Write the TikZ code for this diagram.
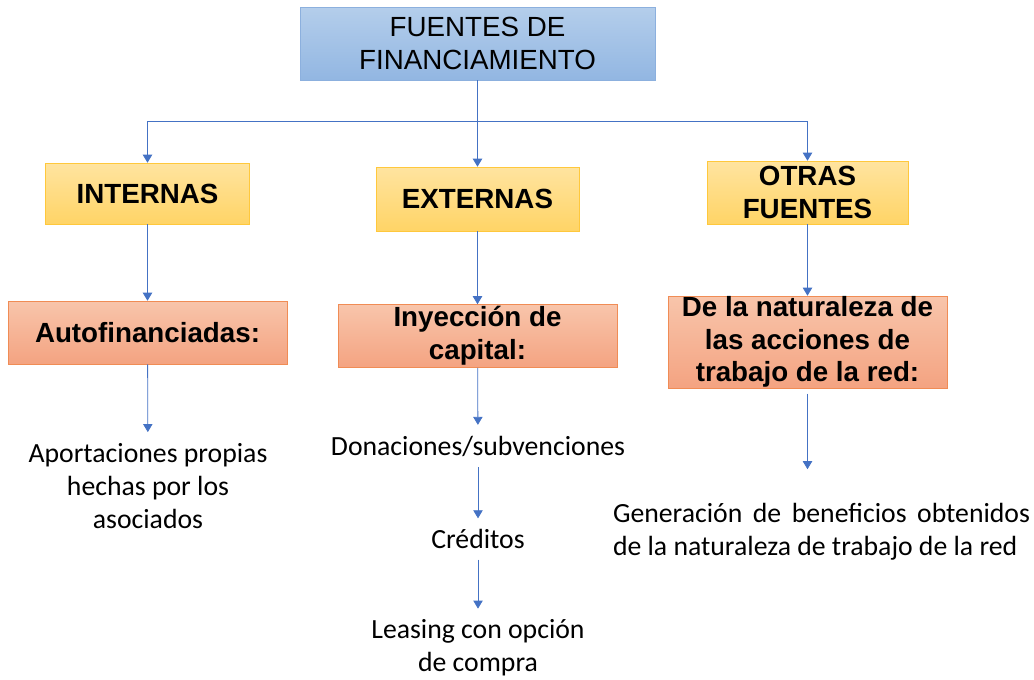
\documentclass[tikz,border=0pt]{standalone}
\usepackage{fontspec}
\setmainfont{Carlito}
\newfontfamily\arialfont{Liberation Sans}
\usetikzlibrary{arrows.meta}
\definecolor{lineblue}{HTML}{4472C4}
\definecolor{skytop}{HTML}{B4CEEB}
\definecolor{skybot}{HTML}{92B6E2}
\definecolor{skyrim}{HTML}{8CB0DE}
\definecolor{goldtop}{HTML}{FFE4A0}
\definecolor{goldbot}{HTML}{FFD466}
\definecolor{goldrim}{HTML}{FFC83C}
\definecolor{salmtop}{HTML}{F8C5AB}
\definecolor{salmbot}{HTML}{F4A381}
\definecolor{salmrim}{HTML}{F08C55}
\newcommand{\boxfont}{\arialfont\bfseries\fontsize{20.8}{24.5}\selectfont}
\begin{document}
\begin{tikzpicture}[x=0.75pt,y=-0.75pt,
  titlebox/.style={draw=skyrim,top color=skytop,bottom color=skybot,align=center,inner sep=0pt,font=\arialfont\fontsize{20.8}{24.75}\selectfont},
  groupbox/.style={draw=goldrim,top color=goldtop,bottom color=goldbot,align=center,inner sep=0pt,font=\boxfont},
  kindbox/.style={draw=salmrim,top color=salmtop,bottom color=salmbot,align=center,inner sep=0pt,font=\boxfont},
  itemtext/.style={align=center,inner sep=8pt,font=\fontsize{20.8}{25}\selectfont},
  link/.style={lineblue,line width=0.6pt},
  arr/.style={link,-{Triangle[width=7pt,length=6pt]}}]
\useasboundingbox (0,0) rectangle (1034,679);
\node[titlebox,minimum width=266.25pt,minimum height=54.75pt] (title) at (477.5,43.5) {FUENTES DE\\FINANCIAMIENTO};
\node[groupbox,minimum width=153pt,minimum height=45.75pt] (internas) at (147.5,193.5) {INTERNAS};
\node[groupbox,minimum width=152.25pt,minimum height=48pt] (externas) at (477.5,199) {EXTERNAS};
\node[groupbox,minimum width=150.75pt,minimum height=47.25pt] (otras) at (807.5,192.5) {OTRAS\\FUENTES};
\node[kindbox,minimum width=209.25pt,minimum height=47.25pt] (autofin) at (147.5,332.5) {Autofinanciadas:};
\node[kindbox,minimum width=209.25pt,minimum height=47.25pt] (capital) at (477.5,336) {Inyección de\\capital:};
\node[kindbox,minimum width=209.25pt,minimum height=69pt] (natural) at (807.5,342) {De la naturaleza de\\las acciones de\\trabajo de la red:};
\node[itemtext] (aporte) at (148,486) {Aportaciones propias\\hechas por los\\asociados};
\node[itemtext] (donac) at (478,446) {Donaciones/subvenciones};
\node[itemtext] (credito) at (478,539) {Créditos};
\node[itemtext] (leasing) at (478,648) {Leasing con opción\\de compra};
\node[itemtext,align=justify,text width=312.75pt,inner sep=0pt] (benef) at (821.5,531.5) {Generación de beneficios obtenidos\linebreak de la naturaleza de trabajo de la red};
\coordinate (bus) at (477.5,121);
\draw[link] (title.south) -- (bus);
\draw[arr] (bus) -| (internas.north);
\draw[arr] (bus) -- (externas.north);
\draw[arr] (bus) -| (otras.north);
\draw[arr] (internas) -- (autofin);
\draw[arr] (externas) -- (capital);
\draw[arr] (otras) -- (natural);
\draw[arr] (autofin) -- (aporte);
\draw[arr] (capital) -- (donac);
\draw[arr] (donac) -- (credito);
\draw[arr] (credito) -- (leasing);
\draw[arr,shorten <=4pt,shorten >=25pt] (natural.south) -- (natural.south |- benef.north);
\end{tikzpicture}
\end{document}
